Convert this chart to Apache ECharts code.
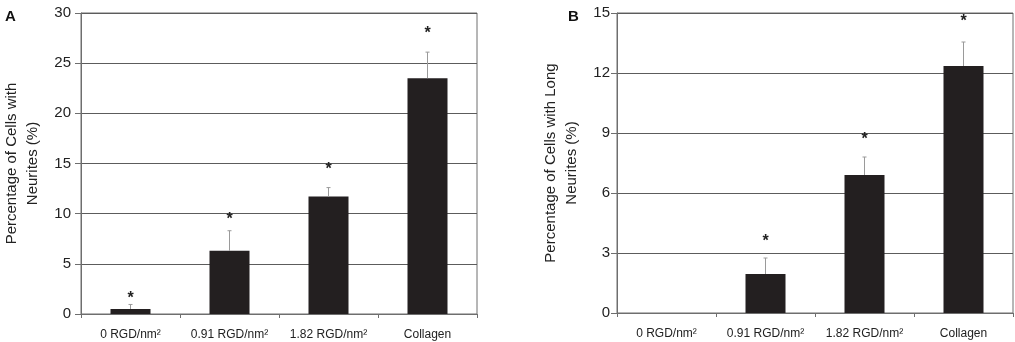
<!DOCTYPE html>
<html>
<head>
<meta charset="utf-8">
<script src="https://cdn.jsdelivr.net/npm/echarts@6/dist/echarts.min.js"></script>
<style>
  html, body { margin: 0; padding: 0; background: #fff; }
  #main { width: 1015px; height: 342px; }
</style>
</head>
<body>
<div id="main"></div>
<script>
"use strict";
// categories and values
var categories = ['0 RGD/nm²', '0.91 RGD/nm²', '1.82 RGD/nm²', 'Collagen'];
var valuesA = [0.5, 6.3, 11.7, 23.5];
var errorsA = [0.45, 2.0, 0.9, 2.6];
var starsA = [1.8, 9.7, 14.7, 28.2];
var valuesB = [0, 1.95, 6.9, 12.35];
var errorsB = [0, 0.8, 0.9, 1.2];
var starsB = [null, 3.7, 8.8, 14.7];

var FONT = '"Liberation Sans", Arial, sans-serif';
var BAR = '#231f20';

// error bar (line + cap) plus the star above it
function errorItem(stars) {
    return function (params, api) {
        var idx = api.value(0);
        var val = api.value(1);
        var err = api.value(2);
        var children = [];
        if (err > 0) {
            var p0 = api.coord([idx, val]);
            var p1 = api.coord([idx, val + err]);
            children.push({
                type: 'line',
                shape: { x1: p0[0], y1: p0[1], x2: p1[0], y2: p1[1] },
                style: { stroke: '#9a9a9a', lineWidth: 1 }
            });
            children.push({
                type: 'line',
                shape: { x1: p1[0] - 2, y1: p1[1], x2: p1[0] + 2, y2: p1[1] },
                style: { stroke: '#9a9a9a', lineWidth: 1 }
            });
        }
        var s = stars[idx];
        if (s != null) {
            var ps = api.coord([idx, s]);
            children.push({
                type: 'text',
                x: ps[0],
                y: ps[1] + 3,
                style: {
                    text: '*', fill: '#222', font: 'bold 16px ' + FONT,
                    align: 'center', verticalAlign: 'middle'
                }
            });
        }
        return { type: 'group', children: children };
    };
}

function errData(values, errors) {
    var out = [];
    for (let i = 0; i < values.length; i++) {
        out.push([i, values[i], errors[i]]);
    }
    return out;
}

function xAxisFor(gridIndex) {
    return {
        type: 'category',
        gridIndex: gridIndex,
        data: categories,
        axisLine: { lineStyle: { color: '#6e6e6e', width: 1 } },
        axisTick: { show: true, length: 4, lineStyle: { color: '#6e6e6e' } },
        axisLabel: { color: '#222', fontSize: 12, fontFamily: FONT, margin: 15, interval: 0 }
    };
}

function yAxisFor(gridIndex, max, interval, name, gap, labelMargin) {
    return {
        type: 'value',
        gridIndex: gridIndex,
        min: 0,
        max: max,
        interval: interval,
        name: name,
        nameLocation: 'middle',
        nameGap: gap,
        nameTextStyle: { color: '#222', fontSize: 15, fontFamily: FONT, lineHeight: 21 },
        axisLine: { show: true, lineStyle: { color: '#6e6e6e', width: 1 } },
        axisTick: { show: true, length: 6, lineStyle: { color: '#6e6e6e' } },
        axisLabel: { color: '#222', fontSize: 15, fontFamily: FONT, margin: labelMargin },
        splitLine: { show: true, lineStyle: { color: '#5c5c5c', width: 1 } }
    };
}

var myChart = echarts.init(document.getElementById('main'), null, { renderer: 'canvas' });
myChart.setOption({
    animation: false,
    backgroundColor: '#fff',
    title: [
        { text: 'A', left: 0, top: 4, textStyle: { fontSize: 15, fontWeight: 'bold', fontFamily: FONT, color: '#111' } },
        { text: 'B', left: 563, top: 4, textStyle: { fontSize: 15, fontWeight: 'bold', fontFamily: FONT, color: '#111' } }
    ],
    grid: [
        { left: 78, right: 538, top: 13, bottom: 28, show: true, borderColor: '#6e6e6e', borderWidth: 1 },
        { left: 617, right: 2, top: 13, bottom: 29, show: true, borderColor: '#6e6e6e', borderWidth: 1 }
    ],
    xAxis: [xAxisFor(0), xAxisFor(1)],
    yAxis: [
        yAxisFor(0, 30, 5, 'Percentage of Cells with\nNeurites (%)', 38, 10),
        yAxisFor(1, 15, 3, 'Percentage of Cells with Long\nNeurites (%)', 35, 7)
    ],
    series: [
        {
            type: 'bar', xAxisIndex: 0, yAxisIndex: 0, data: valuesA, barWidth: 40,
            itemStyle: { color: BAR }
        },
        {
            type: 'custom', xAxisIndex: 0, yAxisIndex: 0, data: errData(valuesA, errorsA),
            renderItem: errorItem(starsA), z: 5
        },
        {
            type: 'bar', xAxisIndex: 1, yAxisIndex: 1, data: valuesB, barWidth: 40,
            itemStyle: { color: BAR }
        },
        {
            type: 'custom', xAxisIndex: 1, yAxisIndex: 1, data: errData(valuesB, errorsB),
            renderItem: errorItem(starsB), z: 5
        }
    ]
});
</script>
</body>
</html>
